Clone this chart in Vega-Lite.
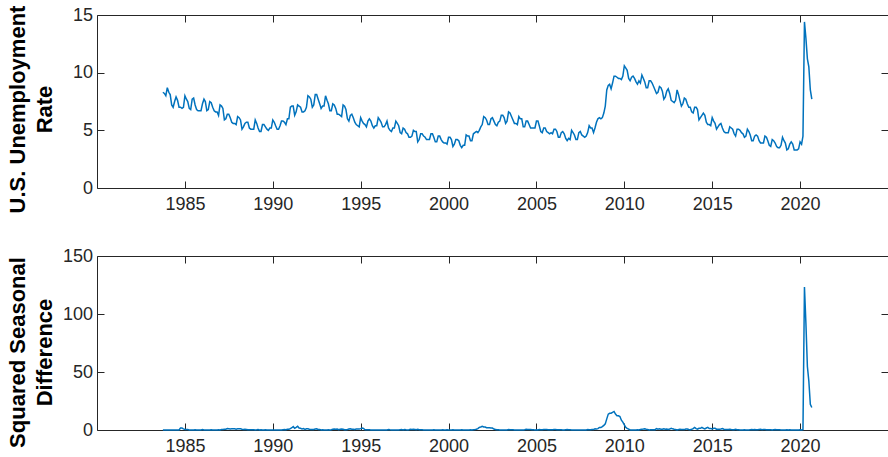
{
"$schema": "https://vega.github.io/schema/vega-lite/v6.json",
"padding": {"left": 5, "top": 4, "right": 0, "bottom": 0},
"bounds": "flush",
"spacing": 68,
"config": {
  "font": "Liberation Sans",
  "view": {"stroke": "#262626", "strokeWidth": 1},
  "axis": {"labelFont": "Liberation Sans", "labelFontSize": 18, "labelColor": "#262626", "labelFlush": false, "labelOverlap": false, "tickColor": "#262626", "tickSize": -7, "tickWidth": 1, "domain": false, "grid": false, "minExtent": 0, "titleFont": "Liberation Sans", "titleFontSize": 22, "titleFontWeight": "bold", "titleColor": "#000000", "titleLineHeight": 27}
},
"data": {"values": [
{"d":"1983-10","u":8.3,"s":0},{"d":"1983-11","u":8.2,"s":0},{"d":"1983-12","u":8.0,"s":0},
{"d":"1984-01","u":8.7,"s":0},{"d":"1984-02","u":8.3,"s":0},{"d":"1984-03","u":8.1,"s":0},{"d":"1984-04","u":7.2,"s":0},{"d":"1984-05","u":7.0,"s":0},{"d":"1984-06","u":7.5,"s":0},{"d":"1984-07","u":7.9,"s":0},{"d":"1984-08","u":7.6,"s":0},{"d":"1984-09","u":7.0,"s":0},{"d":"1984-10","u":7.0,"s":1.69},{"d":"1984-11","u":6.9,"s":1.69},{"d":"1984-12","u":7.0,"s":1.0},
{"d":"1985-01","u":8.0,"s":0.49},{"d":"1985-02","u":7.7,"s":0.36},{"d":"1985-03","u":7.5,"s":0.36},{"d":"1985-04","u":6.9,"s":0.09},{"d":"1985-05","u":6.8,"s":0.04},{"d":"1985-06","u":7.7,"s":0.04},{"d":"1985-07","u":7.8,"s":0.01},{"d":"1985-08","u":7.2,"s":0.16},{"d":"1985-09","u":6.8,"s":0.04},{"d":"1985-10","u":6.7,"s":0.09},{"d":"1985-11","u":6.7,"s":0.04},{"d":"1985-12","u":6.7,"s":0.09},
{"d":"1986-01","u":7.3,"s":0.49},{"d":"1986-02","u":7.7,"s":0},{"d":"1986-03","u":7.5,"s":0},{"d":"1986-04","u":6.7,"s":0.04},{"d":"1986-05","u":6.8,"s":0},{"d":"1986-06","u":7.5,"s":0.04},{"d":"1986-07","u":7.4,"s":0.16},{"d":"1986-08","u":7.0,"s":0.04},{"d":"1986-09","u":6.7,"s":0.01},{"d":"1986-10","u":6.6,"s":0.01},{"d":"1986-11","u":6.6,"s":0.01},{"d":"1986-12","u":6.3,"s":0.16},
{"d":"1987-01","u":7.2,"s":0.01},{"d":"1987-02","u":7.1,"s":0.36},{"d":"1987-03","u":6.9,"s":0.36},{"d":"1987-04","u":5.9,"s":0.64},{"d":"1987-05","u":6.0,"s":0.64},{"d":"1987-06","u":6.4,"s":1.21},{"d":"1987-07","u":6.4,"s":1.0},{"d":"1987-08","u":6.1,"s":0.81},{"d":"1987-09","u":5.7,"s":1.0},{"d":"1987-10","u":5.6,"s":1.0},{"d":"1987-11","u":5.6,"s":1.0},{"d":"1987-12","u":5.5,"s":0.64},
{"d":"1988-01","u":6.2,"s":1.0},{"d":"1988-02","u":6.1,"s":1.0},{"d":"1988-03","u":5.9,"s":1.0},{"d":"1988-04","u":5.1,"s":0.64},{"d":"1988-05","u":5.3,"s":0.49},{"d":"1988-06","u":5.6,"s":0.64},{"d":"1988-07","u":5.7,"s":0.49},{"d":"1988-08","u":5.7,"s":0.16},{"d":"1988-09","u":5.2,"s":0.25},{"d":"1988-10","u":5.1,"s":0.25},{"d":"1988-11","u":5.1,"s":0.25},{"d":"1988-12","u":5.1,"s":0.16},
{"d":"1989-01","u":5.9,"s":0.09},{"d":"1989-02","u":5.6,"s":0.25},{"d":"1989-03","u":5.2,"s":0.49},{"d":"1989-04","u":4.9,"s":0.04},{"d":"1989-05","u":4.9,"s":0.16},{"d":"1989-06","u":5.5,"s":0.01},{"d":"1989-07","u":5.5,"s":0.04},{"d":"1989-08","u":5.3,"s":0.16},{"d":"1989-09","u":5.1,"s":0.01},{"d":"1989-10","u":5.0,"s":0.01},{"d":"1989-11","u":5.2,"s":0.01},{"d":"1989-12","u":5.2,"s":0.01},
{"d":"1990-01","u":5.9,"s":0},{"d":"1990-02","u":5.7,"s":0.01},{"d":"1990-03","u":5.4,"s":0.04},{"d":"1990-04","u":5.1,"s":0.04},{"d":"1990-05","u":5.1,"s":0.04},{"d":"1990-06","u":5.4,"s":0.01},{"d":"1990-07","u":5.8,"s":0.09},{"d":"1990-08","u":5.8,"s":0.25},{"d":"1990-09","u":5.7,"s":0.36},{"d":"1990-10","u":5.5,"s":0.25},{"d":"1990-11","u":6.0,"s":0.64},{"d":"1990-12","u":6.0,"s":0.64},
{"d":"1991-01","u":7.0,"s":1.21},{"d":"1991-02","u":7.1,"s":1.96},{"d":"1991-03","u":7.1,"s":2.89},{"d":"1991-04","u":6.3,"s":1.44},{"d":"1991-05","u":6.6,"s":2.25},{"d":"1991-06","u":7.2,"s":3.24},{"d":"1991-07","u":7.1,"s":1.69},{"d":"1991-08","u":7.0,"s":1.44},{"d":"1991-09","u":6.6,"s":0.81},{"d":"1991-10","u":6.6,"s":1.21},{"d":"1991-11","u":6.7,"s":0.49},{"d":"1991-12","u":7.0,"s":1.0},
{"d":"1992-01","u":8.0,"s":1.0},{"d":"1992-02","u":7.9,"s":0.64},{"d":"1992-03","u":7.7,"s":0.36},{"d":"1992-04","u":7.0,"s":0.49},{"d":"1992-05","u":7.2,"s":0.36},{"d":"1992-06","u":8.1,"s":0.81},{"d":"1992-07","u":8.1,"s":1.0},{"d":"1992-08","u":7.7,"s":0.49},{"d":"1992-09","u":7.3,"s":0.49},{"d":"1992-10","u":6.9,"s":0.09},{"d":"1992-11","u":7.1,"s":0.16},{"d":"1992-12","u":7.1,"s":0.01},
{"d":"1993-01","u":8.0,"s":0},{"d":"1993-02","u":7.6,"s":0.09},{"d":"1993-03","u":7.3,"s":0.16},{"d":"1993-04","u":6.7,"s":0.09},{"d":"1993-05","u":6.7,"s":0.25},{"d":"1993-06","u":7.3,"s":0.64},{"d":"1993-07","u":7.2,"s":0.81},{"d":"1993-08","u":6.9,"s":0.64},{"d":"1993-09","u":6.4,"s":0.81},{"d":"1993-10","u":6.4,"s":0.25},{"d":"1993-11","u":6.3,"s":0.64},{"d":"1993-12","u":6.2,"s":0.81},
{"d":"1994-01","u":7.2,"s":0.64},{"d":"1994-02","u":7.1,"s":0.25},{"d":"1994-03","u":6.8,"s":0.25},{"d":"1994-04","u":6.0,"s":0.49},{"d":"1994-05","u":5.8,"s":0.81},{"d":"1994-06","u":6.3,"s":1.0},{"d":"1994-07","u":6.4,"s":0.64},{"d":"1994-08","u":6.1,"s":0.64},{"d":"1994-09","u":5.7,"s":0.49},{"d":"1994-10","u":5.5,"s":0.81},{"d":"1994-11","u":5.4,"s":0.81},{"d":"1994-12","u":5.3,"s":0.81},
{"d":"1995-01","u":6.1,"s":1.21},{"d":"1995-02","u":5.8,"s":1.69},{"d":"1995-03","u":5.6,"s":1.44},{"d":"1995-04","u":5.5,"s":0.25},{"d":"1995-05","u":5.3,"s":0.25},{"d":"1995-06","u":5.8,"s":0.25},{"d":"1995-07","u":6.0,"s":0.16},{"d":"1995-08","u":5.8,"s":0.09},{"d":"1995-09","u":5.4,"s":0.09},{"d":"1995-10","u":5.2,"s":0.09},{"d":"1995-11","u":5.4,"s":0},{"d":"1995-12","u":5.4,"s":0.01},
{"d":"1996-01","u":6.1,"s":0},{"d":"1996-02","u":5.9,"s":0.01},{"d":"1996-03","u":5.7,"s":0.01},{"d":"1996-04","u":5.3,"s":0.04},{"d":"1996-05","u":5.3,"s":0},{"d":"1996-06","u":5.5,"s":0.09},{"d":"1996-07","u":5.8,"s":0.04},{"d":"1996-08","u":5.2,"s":0.36},{"d":"1996-09","u":5.0,"s":0.16},{"d":"1996-10","u":4.9,"s":0.09},{"d":"1996-11","u":5.2,"s":0.04},{"d":"1996-12","u":5.2,"s":0.04},
{"d":"1997-01","u":5.8,"s":0.09},{"d":"1997-02","u":5.6,"s":0.09},{"d":"1997-03","u":5.4,"s":0.09},{"d":"1997-04","u":4.8,"s":0.25},{"d":"1997-05","u":4.7,"s":0.36},{"d":"1997-06","u":5.2,"s":0.09},{"d":"1997-07","u":5.1,"s":0.49},{"d":"1997-08","u":4.8,"s":0.16},{"d":"1997-09","u":4.7,"s":0.09},{"d":"1997-10","u":4.4,"s":0.25},{"d":"1997-11","u":4.4,"s":0.64},{"d":"1997-12","u":4.5,"s":0.49},
{"d":"1998-01","u":5.0,"s":0.64},{"d":"1998-02","u":4.9,"s":0.49},{"d":"1998-03","u":4.9,"s":0.25},{"d":"1998-04","u":4.0,"s":0.64},{"d":"1998-05","u":4.2,"s":0.25},{"d":"1998-06","u":4.7,"s":0.25},{"d":"1998-07","u":4.7,"s":0.16},{"d":"1998-08","u":4.5,"s":0.09},{"d":"1998-09","u":4.4,"s":0.09},{"d":"1998-10","u":4.2,"s":0.04},{"d":"1998-11","u":4.2,"s":0.04},{"d":"1998-12","u":4.2,"s":0.09},
{"d":"1999-01","u":4.7,"s":0.09},{"d":"1999-02","u":4.7,"s":0.04},{"d":"1999-03","u":4.4,"s":0.25},{"d":"1999-04","u":4.0,"s":0},{"d":"1999-05","u":4.0,"s":0.04},{"d":"1999-06","u":4.5,"s":0.04},{"d":"1999-07","u":4.5,"s":0.04},{"d":"1999-08","u":4.2,"s":0.09},{"d":"1999-09","u":4.0,"s":0.16},{"d":"1999-10","u":3.9,"s":0.09},{"d":"1999-11","u":3.9,"s":0.09},{"d":"1999-12","u":3.8,"s":0.16},
{"d":"2000-01","u":4.4,"s":0.09},{"d":"2000-02","u":4.4,"s":0.09},{"d":"2000-03","u":4.2,"s":0.04},{"d":"2000-04","u":3.6,"s":0.16},{"d":"2000-05","u":3.8,"s":0.04},{"d":"2000-06","u":4.2,"s":0.09},{"d":"2000-07","u":4.2,"s":0.09},{"d":"2000-08","u":4.1,"s":0.01},{"d":"2000-09","u":3.7,"s":0.09},{"d":"2000-10","u":3.5,"s":0.16},{"d":"2000-11","u":3.7,"s":0.04},{"d":"2000-12","u":3.7,"s":0.01},
{"d":"2001-01","u":4.6,"s":0.04},{"d":"2001-02","u":4.5,"s":0.01},{"d":"2001-03","u":4.5,"s":0.09},{"d":"2001-04","u":4.1,"s":0.25},{"d":"2001-05","u":4.1,"s":0.09},{"d":"2001-06","u":4.7,"s":0.25},{"d":"2001-07","u":4.8,"s":0.36},{"d":"2001-08","u":4.9,"s":0.64},{"d":"2001-09","u":4.8,"s":1.21},{"d":"2001-10","u":5.0,"s":2.25},{"d":"2001-11","u":5.3,"s":2.56},{"d":"2001-12","u":5.5,"s":3.24},
{"d":"2002-01","u":6.2,"s":2.56},{"d":"2002-02","u":6.1,"s":2.56},{"d":"2002-03","u":5.9,"s":1.96},{"d":"2002-04","u":5.5,"s":1.96},{"d":"2002-05","u":5.5,"s":1.96},{"d":"2002-06","u":6.0,"s":1.69},{"d":"2002-07","u":6.1,"s":1.69},{"d":"2002-08","u":5.8,"s":0.81},{"d":"2002-09","u":5.5,"s":0.49},{"d":"2002-10","u":5.4,"s":0.16},{"d":"2002-11","u":5.7,"s":0.16},{"d":"2002-12","u":5.8,"s":0.09},
{"d":"2003-01","u":6.3,"s":0.01},{"d":"2003-02","u":6.3,"s":0.04},{"d":"2003-03","u":6.1,"s":0.04},{"d":"2003-04","u":5.6,"s":0.01},{"d":"2003-05","u":5.8,"s":0.09},{"d":"2003-06","u":6.6,"s":0.36},{"d":"2003-07","u":6.5,"s":0.16},{"d":"2003-08","u":6.2,"s":0.16},{"d":"2003-09","u":5.9,"s":0.16},{"d":"2003-10","u":5.6,"s":0.04},{"d":"2003-11","u":5.6,"s":0.01},{"d":"2003-12","u":5.5,"s":0.09},
{"d":"2004-01","u":6.2,"s":0.01},{"d":"2004-02","u":6.0,"s":0.09},{"d":"2004-03","u":6.0,"s":0.01},{"d":"2004-04","u":5.3,"s":0.09},{"d":"2004-05","u":5.3,"s":0.25},{"d":"2004-06","u":5.8,"s":0.64},{"d":"2004-07","u":5.8,"s":0.49},{"d":"2004-08","u":5.5,"s":0.49},{"d":"2004-09","u":5.2,"s":0.49},{"d":"2004-10","u":5.2,"s":0.16},{"d":"2004-11","u":5.2,"s":0.16},{"d":"2004-12","u":5.2,"s":0.09},
{"d":"2005-01","u":5.8,"s":0.16},{"d":"2005-02","u":5.8,"s":0.04},{"d":"2005-03","u":5.4,"s":0.36},{"d":"2005-04","u":4.9,"s":0.16},{"d":"2005-05","u":4.8,"s":0.25},{"d":"2005-06","u":5.2,"s":0.36},{"d":"2005-07","u":5.2,"s":0.36},{"d":"2005-08","u":4.9,"s":0.36},{"d":"2005-09","u":4.8,"s":0.16},{"d":"2005-10","u":4.7,"s":0.25},{"d":"2005-11","u":4.8,"s":0.16},{"d":"2005-12","u":4.7,"s":0.25},
{"d":"2006-01","u":5.1,"s":0.49},{"d":"2006-02","u":5.1,"s":0.49},{"d":"2006-03","u":4.9,"s":0.25},{"d":"2006-04","u":4.4,"s":0.25},{"d":"2006-05","u":4.4,"s":0.16},{"d":"2006-06","u":4.8,"s":0.16},{"d":"2006-07","u":4.9,"s":0.09},{"d":"2006-08","u":4.7,"s":0.04},{"d":"2006-09","u":4.3,"s":0.25},{"d":"2006-10","u":4.1,"s":0.36},{"d":"2006-11","u":4.3,"s":0.25},{"d":"2006-12","u":4.2,"s":0.25},
{"d":"2007-01","u":5.0,"s":0.01},{"d":"2007-02","u":4.8,"s":0.09},{"d":"2007-03","u":4.6,"s":0.09},{"d":"2007-04","u":4.2,"s":0.04},{"d":"2007-05","u":4.2,"s":0.04},{"d":"2007-06","u":4.8,"s":0},{"d":"2007-07","u":4.9,"s":0},{"d":"2007-08","u":4.6,"s":0.01},{"d":"2007-09","u":4.5,"s":0.04},{"d":"2007-10","u":4.4,"s":0.09},{"d":"2007-11","u":4.5,"s":0.04},{"d":"2007-12","u":4.8,"s":0.36},
{"d":"2008-01","u":5.4,"s":0.16},{"d":"2008-02","u":5.2,"s":0.16},{"d":"2008-03","u":5.2,"s":0.36},{"d":"2008-04","u":4.8,"s":0.36},{"d":"2008-05","u":5.2,"s":1.0},{"d":"2008-06","u":5.7,"s":0.81},{"d":"2008-07","u":6.0,"s":1.21},{"d":"2008-08","u":6.1,"s":2.25},{"d":"2008-09","u":6.0,"s":2.25},{"d":"2008-10","u":6.1,"s":2.89},{"d":"2008-11","u":6.5,"s":4.0},{"d":"2008-12","u":7.1,"s":5.29},
{"d":"2009-01","u":8.5,"s":9.61},{"d":"2009-02","u":8.9,"s":13.69},{"d":"2009-03","u":9.0,"s":14.44},{"d":"2009-04","u":8.6,"s":14.44},{"d":"2009-05","u":9.1,"s":15.21},{"d":"2009-06","u":9.7,"s":16.0},{"d":"2009-07","u":9.7,"s":13.69},{"d":"2009-08","u":9.6,"s":12.25},{"d":"2009-09","u":9.5,"s":12.25},{"d":"2009-10","u":9.5,"s":11.56},{"d":"2009-11","u":9.4,"s":8.41},{"d":"2009-12","u":9.7,"s":6.76},
{"d":"2010-01","u":10.6,"s":4.41},{"d":"2010-02","u":10.4,"s":2.25},{"d":"2010-03","u":10.2,"s":1.44},{"d":"2010-04","u":9.5,"s":0.81},{"d":"2010-05","u":9.3,"s":0.04},{"d":"2010-06","u":9.6,"s":0.01},{"d":"2010-07","u":9.7,"s":0},{"d":"2010-08","u":9.5,"s":0.01},{"d":"2010-09","u":9.2,"s":0.09},{"d":"2010-10","u":9.0,"s":0.25},{"d":"2010-11","u":9.3,"s":0.01},{"d":"2010-12","u":9.1,"s":0.36},
{"d":"2011-01","u":9.8,"s":0.64},{"d":"2011-02","u":9.5,"s":0.81},{"d":"2011-03","u":9.2,"s":1.0},{"d":"2011-04","u":8.7,"s":0.64},{"d":"2011-05","u":8.7,"s":0.36},{"d":"2011-06","u":9.3,"s":0.09},{"d":"2011-07","u":9.3,"s":0.16},{"d":"2011-08","u":9.1,"s":0.16},{"d":"2011-09","u":8.8,"s":0.16},{"d":"2011-10","u":8.5,"s":0.25},{"d":"2011-11","u":8.2,"s":1.21},{"d":"2011-12","u":8.3,"s":0.64},
{"d":"2012-01","u":8.8,"s":1.0},{"d":"2012-02","u":8.7,"s":0.64},{"d":"2012-03","u":8.4,"s":0.64},{"d":"2012-04","u":7.7,"s":1.0},{"d":"2012-05","u":7.9,"s":0.64},{"d":"2012-06","u":8.4,"s":0.81},{"d":"2012-07","u":8.6,"s":0.49},{"d":"2012-08","u":8.2,"s":0.81},{"d":"2012-09","u":7.6,"s":1.44},{"d":"2012-10","u":7.5,"s":1.0},{"d":"2012-11","u":7.4,"s":0.64},{"d":"2012-12","u":7.6,"s":0.49},
{"d":"2013-01","u":8.5,"s":0.09},{"d":"2013-02","u":8.1,"s":0.36},{"d":"2013-03","u":7.6,"s":0.64},{"d":"2013-04","u":7.1,"s":0.36},{"d":"2013-05","u":7.3,"s":0.36},{"d":"2013-06","u":7.8,"s":0.36},{"d":"2013-07","u":7.7,"s":0.81},{"d":"2013-08","u":7.3,"s":0.81},{"d":"2013-09","u":7.0,"s":0.36},{"d":"2013-10","u":7.0,"s":0.25},{"d":"2013-11","u":6.6,"s":0.64},{"d":"2013-12","u":6.5,"s":1.21},
{"d":"2014-01","u":7.0,"s":2.25},{"d":"2014-02","u":7.0,"s":1.21},{"d":"2014-03","u":6.8,"s":0.64},{"d":"2014-04","u":5.9,"s":1.44},{"d":"2014-05","u":6.1,"s":1.44},{"d":"2014-06","u":6.3,"s":2.25},{"d":"2014-07","u":6.5,"s":1.44},{"d":"2014-08","u":6.3,"s":1.0},{"d":"2014-09","u":5.7,"s":1.69},{"d":"2014-10","u":5.5,"s":2.25},{"d":"2014-11","u":5.5,"s":1.21},{"d":"2014-12","u":5.4,"s":1.21},
{"d":"2015-01","u":6.1,"s":0.81},{"d":"2015-02","u":5.8,"s":1.44},{"d":"2015-03","u":5.6,"s":1.44},{"d":"2015-04","u":5.1,"s":0.64},{"d":"2015-05","u":5.3,"s":0.64},{"d":"2015-06","u":5.5,"s":0.64},{"d":"2015-07","u":5.6,"s":0.81},{"d":"2015-08","u":5.2,"s":1.21},{"d":"2015-09","u":4.9,"s":0.64},{"d":"2015-10","u":4.8,"s":0.49},{"d":"2015-11","u":4.8,"s":0.49},{"d":"2015-12","u":4.8,"s":0.36},
{"d":"2016-01","u":5.3,"s":0.64},{"d":"2016-02","u":5.2,"s":0.36},{"d":"2016-03","u":5.1,"s":0.25},{"d":"2016-04","u":4.7,"s":0.16},{"d":"2016-05","u":4.5,"s":0.64},{"d":"2016-06","u":5.1,"s":0.16},{"d":"2016-07","u":5.1,"s":0.25},{"d":"2016-08","u":5.0,"s":0.04},{"d":"2016-09","u":4.8,"s":0.01},{"d":"2016-10","u":4.7,"s":0.01},{"d":"2016-11","u":4.4,"s":0.16},{"d":"2016-12","u":4.5,"s":0.09},
{"d":"2017-01","u":5.1,"s":0.04},{"d":"2017-02","u":4.9,"s":0.09},{"d":"2017-03","u":4.6,"s":0.25},{"d":"2017-04","u":4.1,"s":0.36},{"d":"2017-05","u":4.1,"s":0.16},{"d":"2017-06","u":4.5,"s":0.36},{"d":"2017-07","u":4.6,"s":0.25},{"d":"2017-08","u":4.5,"s":0.25},{"d":"2017-09","u":4.1,"s":0.49},{"d":"2017-10","u":3.9,"s":0.64},{"d":"2017-11","u":3.9,"s":0.25},{"d":"2017-12","u":3.9,"s":0.36},
{"d":"2018-01","u":4.5,"s":0.36},{"d":"2018-02","u":4.4,"s":0.25},{"d":"2018-03","u":4.1,"s":0.25},{"d":"2018-04","u":3.7,"s":0.16},{"d":"2018-05","u":3.6,"s":0.25},{"d":"2018-06","u":4.2,"s":0.09},{"d":"2018-07","u":4.1,"s":0.25},{"d":"2018-08","u":3.9,"s":0.36},{"d":"2018-09","u":3.6,"s":0.25},{"d":"2018-10","u":3.5,"s":0.16},{"d":"2018-11","u":3.5,"s":0.16},{"d":"2018-12","u":3.7,"s":0.04},
{"d":"2019-01","u":4.4,"s":0.01},{"d":"2019-02","u":4.1,"s":0.09},{"d":"2019-03","u":3.9,"s":0.04},{"d":"2019-04","u":3.3,"s":0.16},{"d":"2019-05","u":3.4,"s":0.04},{"d":"2019-06","u":3.8,"s":0.16},{"d":"2019-07","u":4.0,"s":0.01},{"d":"2019-08","u":3.8,"s":0.01},{"d":"2019-09","u":3.3,"s":0.09},{"d":"2019-10","u":3.3,"s":0.04},{"d":"2019-11","u":3.3,"s":0.04},{"d":"2019-12","u":3.4,"s":0.09},
{"d":"2020-01","u":4.0,"s":0.16},{"d":"2020-02","u":3.8,"s":0.09},{"d":"2020-03","u":4.5,"s":0.36},{"d":"2020-04","u":14.4,"s":123.21},{"d":"2020-05","u":13.0,"s":92.16},{"d":"2020-06","u":11.2,"s":54.76},{"d":"2020-07","u":10.5,"s":42.25},{"d":"2020-08","u":8.5,"s":22.09},{"d":"2020-09","u":7.7,"s":19.36}
]},
"vconcat": [
  {
    "width": 791, "height": 173,
    "layer": [
      {"mark": {"type": "line", "color": "#0072BD", "strokeWidth": 1.5},
       "encoding": {
         "x": {"field": "d", "type": "temporal", "title": null,
               "scale": {"type": "utc", "nice": false, "domain": [{"year": 1980, "utc": true}, {"year": 2025, "utc": true}]},
               "axis": {"orient": "bottom", "format": "%Y", "labelPadding": 14, "labelBaseline": "top",
                        "values": [{"year": 1985, "utc": true}, {"year": 1990, "utc": true}, {"year": 1995, "utc": true}, {"year": 2000, "utc": true}, {"year": 2005, "utc": true}, {"year": 2010, "utc": true}, {"year": 2015, "utc": true}, {"year": 2020, "utc": true}]}},
         "y": {"field": "u", "type": "quantitative", "title": ["U.S. Unemployment", "Rate"],
               "scale": {"domain": [0, 15], "nice": false},
               "axis": {"orient": "left", "values": [0, 5, 10, 15], "labelPadding": 11.5, "labelBaseline": "middle", "titleX": -68, "titleY": 94}}
       }},
      {"mark": {"type": "line", "strokeOpacity": 0},
       "encoding": {
         "x": {"field": "d", "type": "temporal", "title": null,
               "axis": {"orient": "top", "labels": false,
                        "values": [{"year": 1985, "utc": true}, {"year": 1990, "utc": true}, {"year": 1995, "utc": true}, {"year": 2000, "utc": true}, {"year": 2005, "utc": true}, {"year": 2010, "utc": true}, {"year": 2015, "utc": true}, {"year": 2020, "utc": true}]}},
         "y": {"field": "u", "type": "quantitative", "title": null,
               "axis": {"orient": "right", "labels": false, "values": [0, 5, 10, 15]}}
       }}
    ],
    "resolve": {"axis": {"x": "independent", "y": "independent"}}
  },
  {
    "width": 791, "height": 174,
    "layer": [
      {"mark": {"type": "line", "color": "#0072BD", "strokeWidth": 1.5},
       "encoding": {
         "x": {"field": "d", "type": "temporal", "title": null,
               "scale": {"type": "utc", "nice": false, "domain": [{"year": 1980, "utc": true}, {"year": 2025, "utc": true}]},
               "axis": {"orient": "bottom", "format": "%Y", "labelPadding": 14, "labelBaseline": "top",
                        "values": [{"year": 1985, "utc": true}, {"year": 1990, "utc": true}, {"year": 1995, "utc": true}, {"year": 2000, "utc": true}, {"year": 2005, "utc": true}, {"year": 2010, "utc": true}, {"year": 2015, "utc": true}, {"year": 2020, "utc": true}]}},
         "y": {"field": "s", "type": "quantitative", "title": ["Squared Seasonal", "Difference"],
               "scale": {"domain": [0, 150], "nice": false},
               "axis": {"orient": "left", "values": [0, 50, 100, 150], "labelPadding": 11.5, "labelBaseline": "middle", "titleX": -68, "titleY": 96}}
       }},
      {"mark": {"type": "line", "strokeOpacity": 0},
       "encoding": {
         "x": {"field": "d", "type": "temporal", "title": null,
               "axis": {"orient": "top", "labels": false,
                        "values": [{"year": 1985, "utc": true}, {"year": 1990, "utc": true}, {"year": 1995, "utc": true}, {"year": 2000, "utc": true}, {"year": 2005, "utc": true}, {"year": 2010, "utc": true}, {"year": 2015, "utc": true}, {"year": 2020, "utc": true}]}},
         "y": {"field": "s", "type": "quantitative", "title": null,
               "axis": {"orient": "right", "labels": false, "values": [0, 50, 100, 150]}}
       }}
    ],
    "resolve": {"axis": {"x": "independent", "y": "independent"}}
  }
]
}
